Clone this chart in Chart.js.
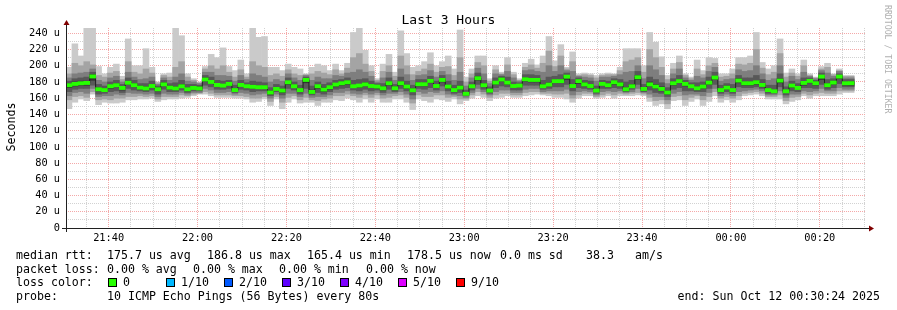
<!DOCTYPE html>
<html>
<head>
<meta charset="utf-8">
<script src="https://cdn.jsdelivr.net/npm/chart.js@4.4.1/dist/chart.umd.min.js"></script>
<style>
    body { margin: 0; background: #fff; }
    #wrap { position: relative; width: 897px; height: 310px; font-family: 'DejaVu Sans Mono', monospace; color: #000; overflow: hidden; }
    #wrap canvas { position: absolute; left: 0; top: 0; }
    .t { position: absolute; white-space: pre; font-size: 11.6px; line-height: 14px; }
    .sw { position: absolute; width: 9px; height: 9px; box-sizing: border-box; border: 1px solid #000; }
</style>
</head>
<body>
<div id="wrap">
    <canvas id="chart" width="897" height="310"></canvas>
</div>
<script>
// probe window: 3 hours ending at 00:30:24, one sample every 80 s
const START_CLOCK = '21:30:24';
const STEP = 80;
const SPAN = 3 * 3600;
const MEDIAN_HALF = 2; // half height of the green median band (us)

const timeLabels = ['21:40', '22:00', '22:20', '22:40', '23:00', '23:20', '23:40', '00:00', '00:20'];
const yTicks = [0, 20, 40, 60, 80, 100, 120, 140, 160, 180, 200, 220, 240];

// median rtt per probe (us)
const median = [
    176, 177.6, 178.4, 178.8, 186.8, 171, 170, 174.7, 176, 172.6,
    179, 176, 173, 172, 175, 171, 177, 173, 172, 174.7,
    171, 172.6, 172, 183, 180, 176.3, 175.5, 177.6, 170, 176.3,
    174.7, 174, 173.5, 173.5, 167, 171.4, 169.4, 179.6, 174.7, 170,
    182.5, 167.7, 174.7, 170.6, 173.5, 176.8, 178.4, 179.6, 174.7, 175.5,
    177, 175, 174.3, 172.2, 178.4, 172.2, 178.4, 174.3, 169.8, 177.2,
    177.2, 181.3, 175, 182.5, 174.3, 170, 173, 165.4, 174.7, 184.6,
    176, 169.4, 179.2, 183, 179.2, 175, 175.5, 183.3, 182.5, 182.5,
    174.7, 176.8, 181, 181, 186.5, 175, 181, 177, 175, 169.4,
    177.6, 176, 179.6, 177, 171, 174.7, 185.8, 171.4, 177, 174.3,
    171.4, 167, 178.4, 181, 177.6, 174.7, 172.2, 174.3, 179.2, 185.4,
    170, 173, 170, 181.7, 178.4, 178.4, 179.6, 176.3, 170, 168.5,
    181.7, 168.5, 175.5, 172.6, 178.8, 181.3, 178.4, 186.6, 176, 179.2,
    186.6, 178.4, 178.5
];

// the 10 pings of each probe, sorted (ping1 = fastest, ping10 = slowest)
const ping1 = [
    147, 155, 159, 157, 165, 152, 155, 154, 154, 155,
    158, 158, 159, 159, 160, 156, 158, 159, 159, 160,
    161, 163, 165, 165, 163, 161, 161, 161, 160, 160,
    159, 155, 156, 159, 151, 159, 147, 155, 159, 154,
    155, 155, 151, 155, 155, 158, 157, 160, 158, 155,
    159, 155, 159, 155, 155, 159, 159, 155, 146, 159,
    157, 155, 159, 158, 156, 159, 153, 157, 160, 163,
    161, 157, 160, 161, 163, 161, 161, 163, 164, 165,
    164, 163, 161, 161, 159, 155, 160, 163, 163, 160,
    161, 163, 160, 163, 163, 163, 164, 163, 156, 151,
    153, 147, 157, 158, 151, 156, 159, 151, 156, 163,
    155, 158, 155, 158, 163, 164, 165, 163, 159, 159,
    159, 153, 156, 158, 163, 160, 163, 163, 163, 163,
    165, 167, 167
];
const ping2 = [
    158, 162, 163, 161, 168, 158, 159, 158, 160, 160,
    162, 162, 163, 162, 163, 159, 162, 162, 162, 164,
    163, 165, 166, 168, 166, 164, 164, 164, 163, 163,
    162, 160, 160, 162, 156, 162, 155, 161, 163, 158,
    161, 158, 157, 159, 160, 163, 163, 165, 163, 161,
    164, 161, 164, 160, 161, 163, 164, 161, 154, 164,
    162, 162, 164, 164, 161, 162, 159, 159, 164, 168,
    165, 161, 164, 166, 166, 164, 164, 167, 168, 168,
    166, 166, 165, 165, 166, 160, 164, 166, 166, 162,
    164, 166, 164, 166, 165, 166, 167, 165, 161, 157,
    158, 153, 162, 163, 158, 161, 163, 158, 162, 168,
    160, 162, 160, 163, 166, 167, 168, 166, 162, 162,
    164, 157, 161, 162, 166, 164, 166, 167, 166, 166,
    169, 169, 169
];
const ping3 = [
    163, 167, 168, 166, 172, 162, 163, 163, 165, 164,
    167, 166, 166, 165, 166, 162, 166, 165, 165, 167,
    165, 167, 167, 172, 170, 167, 167, 168, 165, 167,
    166, 164, 165, 166, 160, 165, 160, 166, 166, 162,
    166, 161, 162, 162, 164, 167, 167, 169, 166, 165,
    167, 165, 167, 164, 166, 166, 168, 165, 159, 168,
    166, 168, 167, 169, 165, 164, 163, 161, 167, 172,
    168, 164, 168, 170, 170, 167, 167, 171, 172, 172,
    168, 169, 169, 169, 171, 164, 168, 169, 168, 164,
    168, 169, 168, 169, 167, 168, 172, 167, 165, 162,
    162, 158, 166, 168, 164, 165, 165, 163, 167, 172,
    163, 165, 163, 168, 169, 170, 171, 169, 164, 164,
    169, 161, 165, 165, 169, 168, 169, 172, 169, 169,
    173, 171, 171
];
const ping4 = [
    168, 171, 172, 172, 176, 165, 166, 168, 169, 167,
    172, 170, 169, 168, 170, 165, 171, 168, 168, 170,
    167, 169, 169, 176, 174, 171, 171, 172, 167, 171,
    170, 168, 169, 169, 163, 168, 164, 172, 170, 165,
    172, 164, 167, 165, 168, 171, 172, 173, 170, 169,
    171, 169, 170, 167, 171, 168, 172, 169, 164, 172,
    171, 173, 170, 175, 169, 166, 167, 163, 170, 177,
    171, 166, 173, 175, 174, 170, 170, 176, 176, 176,
    171, 172, 174, 174, 177, 169, 173, 172, 171, 166,
    172, 172, 173, 172, 168, 171, 177, 168, 170, 167,
    166, 162, 171, 173, 169, 169, 168, 168, 172, 177,
    166, 168, 166, 174, 173, 173, 174, 172, 166, 166,
    174, 164, 169, 168, 173, 173, 172, 177, 171, 173,
    178, 174, 174
];
const ping5 = [
    173, 175, 176, 176, 182, 169, 168, 172, 174, 170,
    177, 174, 171, 170, 173, 169, 175, 171, 170, 173,
    169, 171, 171, 181, 178, 175, 174, 176, 169, 175,
    173, 172, 172, 172, 165, 170, 167, 177, 173, 168,
    179, 166, 172, 168, 171, 174, 176, 177, 173, 173,
    175, 173, 172, 170, 176, 170, 176, 172, 168, 175,
    175, 179, 173, 180, 172, 168, 171, 164, 173, 182,
    174, 168, 177, 181, 177, 173, 174, 181, 180, 180,
    173, 175, 179, 179, 183, 173, 178, 175, 173, 168,
    176, 174, 177, 175, 170, 173, 183, 170, 175, 172,
    169, 165, 176, 179, 175, 173, 170, 172, 177, 183,
    168, 171, 168, 179, 176, 176, 177, 174, 168, 167,
    179, 167, 173, 171, 176, 179, 176, 183, 174, 177,
    184, 176, 176
];
const ping6 = [
    178, 180, 181, 181, 189, 173, 172, 176, 178, 174,
    181, 178, 175, 174, 177, 173, 179, 175, 174, 177,
    173, 174, 174, 185, 182, 178, 177, 179, 172, 178,
    176, 176, 175, 175, 169, 173, 171, 181, 176, 172,
    184, 170, 176, 173, 175, 178, 180, 181, 176, 177,
    179, 177, 176, 174, 180, 174, 180, 176, 172, 179,
    179, 183, 177, 184, 176, 172, 175, 167, 176, 187,
    178, 171, 181, 185, 181, 177, 177, 185, 184, 184,
    177, 179, 183, 183, 188, 177, 183, 179, 177, 171,
    179, 178, 181, 179, 173, 177, 188, 173, 180, 177,
    174, 169, 180, 183, 179, 176, 174, 176, 181, 187,
    172, 175, 172, 184, 180, 180, 181, 178, 172, 170,
    184, 170, 177, 174, 180, 183, 180, 188, 178, 181,
    188, 180, 180
];
const ping7 = [
    181, 184, 185, 186, 192, 177, 175, 180, 182, 177,
    185, 182, 178, 178, 181, 175, 182, 178, 179, 182,
    177, 177, 176, 188, 186, 182, 181, 182, 176, 182,
    179, 181, 180, 179, 173, 177, 175, 185, 180, 176,
    186, 175, 180, 177, 179, 182, 183, 185, 182, 183,
    184, 181, 178, 178, 185, 177, 186, 181, 176, 183,
    183, 187, 181, 188, 181, 176, 181, 170, 180, 191,
    182, 174, 185, 187, 186, 180, 179, 189, 189, 188,
    182, 186, 187, 189, 191, 183, 185, 182, 181, 175,
    182, 181, 184, 183, 180, 182, 193, 177, 186, 183,
    179, 173, 184, 188, 182, 179, 179, 180, 186, 192,
    176, 178, 177, 188, 185, 185, 188, 183, 176, 176,
    190, 174, 181, 178, 185, 185, 182, 191, 183, 184,
    190, 183, 183
];
const ping8 = [
    185, 190, 191, 192, 196, 182, 180, 185, 187, 180,
    192, 186, 183, 184, 186, 177, 185, 182, 186, 190,
    181, 180, 178, 192, 192, 188, 188, 187, 181, 188,
    183, 190, 188, 186, 180, 183, 181, 190, 185, 182,
    188, 182, 186, 184, 184, 188, 187, 191, 192, 195,
    192, 187, 180, 185, 192, 182, 196, 189, 182, 188,
    189, 194, 186, 193, 189, 182, 192, 175, 185, 197,
    190, 178, 190, 189, 193, 185, 181, 194, 195, 193,
    192, 200, 193, 200, 194, 193, 187, 186, 185, 181,
    186, 186, 187, 189, 192, 193, 200, 184, 200, 195,
    188, 178, 190, 196, 185, 182, 187, 185, 193, 198,
    181, 183, 184, 195, 193, 194, 200, 190, 182, 184,
    200, 180, 187, 183, 192, 187, 184, 194, 191, 187,
    193, 185, 185
];
const ping9 = [
    190, 203, 200, 205, 201, 188, 186, 191, 193, 183,
    205, 192, 190, 196, 191, 179, 188, 186, 198, 205,
    186, 182, 179, 196, 200, 196, 200, 192, 186, 195,
    186, 205, 200, 198, 188, 190, 187, 195, 190, 188,
    189, 190, 193, 191, 189, 195, 190, 197, 210, 215,
    202, 193, 182, 193, 200, 187, 212, 200, 189, 193,
    196, 202, 192, 198, 199, 188, 210, 180, 190, 204,
    200, 181, 195, 190, 201, 189, 182, 198, 201, 197,
    203, 218, 199, 212, 196, 205, 188, 189, 188, 185,
    188, 189, 189, 194, 205, 207, 210, 192, 220, 210,
    198, 183, 196, 204, 188, 184, 196, 189, 200, 203,
    186, 187, 190, 202, 201, 203, 220, 197, 189, 192,
    215, 186, 191, 187, 200, 188, 185, 196, 198, 189,
    194, 187, 187
];
const ping10 = [
    198, 227, 212, 250, 250, 199, 190, 198, 202, 187,
    233, 200, 200, 221, 198, 180, 190, 191, 250, 237,
    190, 184, 180, 199, 214, 210, 222, 199, 194, 207,
    190, 250, 235, 236, 198, 198, 194, 202, 198, 196,
    190, 198, 202, 200, 194, 202, 194, 203, 241, 250,
    219, 200, 184, 202, 214, 192, 243, 215, 198, 200,
    205, 216, 200, 205, 212, 196, 244, 186, 196, 212,
    212, 184, 200, 192, 210, 192, 184, 203, 208, 201,
    212, 236, 206, 226, 198, 217, 190, 191, 190, 188,
    190, 191, 190, 198, 221, 221, 221, 200, 241, 229,
    211, 188, 203, 212, 190, 186, 207, 194, 210, 209,
    190, 190, 196, 210, 210, 212, 241, 204, 196, 200,
    233, 191, 196, 190, 207, 190, 186, 199, 203, 190,
    196, 188, 188
];

const lossLabels = ['0', '1/10', '2/10', '3/10', '4/10', '5/10', '9/10'];
const lossColors = ['#26ff00', '#00b8ff', '#0059ff', '#5e00ff', '#7e00ff', '#dd00ff', '#ff0000'];
const smokeColors = ['#cacaca', '#a4a4a4', '#7e7e7e', '#585858', '#323232'];

const GRID = '#d2d2d2';
const MGRID = '#f4a8a8';
const FONT = "'DejaVu Sans Mono', monospace";

function clockToSec(s) {
    const p = s.split(':').map(Number);
    return p[0] * 3600 + p[1] * 60 + (p[2] || 0);
}
const startSec = clockToSec(START_CLOCK);
const majorOffsets = timeLabels.map(l => (clockToSec(l) - startSec + 86400) % 86400);

// minor grid every 5 minutes on the clock
const xGrid = [];
for (let t = 300 - (startSec % 300); t <= SPAN; t += 300) xGrid.push(t);

const centre = i => STEP * i + STEP / 2;
const lows = [ping1, ping2, ping3, ping4, ping5];
const highs = [ping10, ping9, ping8, ping7, ping6];

const datasets = lows.map((lo, b) => ({
    type: 'bar',
    data: lo.map((v, i) => ({ x: centre(i), y: [v, highs[b][i]] })),
    backgroundColor: smokeColors[b],
    order: 10 - b
}));

datasets.push({
    type: 'line',
    data: median.map((v, i) => ({ x: STEP * i, y: v }))
        .concat([{ x: STEP * median.length, y: median[median.length - 1] }]),
    borderColor: '#202020',
    borderWidth: 1,
    stepped: true,
    pointRadius: 0,
    fill: false,
    order: 2
});

datasets.push({
    type: 'bar',
    data: median.map((v, i) => ({ x: centre(i), y: [v - MEDIAN_HALF, v + MEDIAN_HALF] })),
    backgroundColor: lossColors[0],
    order: 1
});

const axisArrows = {
    id: 'axisArrows',
    afterDraw(chart) {
        const { ctx, chartArea: a } = chart;
        ctx.save();
        ctx.strokeStyle = '#202020';
        ctx.lineWidth = 1;
        ctx.beginPath();
        ctx.moveTo(a.left - 4, a.bottom + 0.5);
        ctx.lineTo(a.right + 4, a.bottom + 0.5);
        ctx.moveTo(a.left + 0.5, a.bottom + 4);
        ctx.lineTo(a.left + 0.5, a.top - 5);
        ctx.stroke();
        ctx.fillStyle = '#800000';
        ctx.beginPath();
        ctx.moveTo(a.left - 2.5, a.top - 3);
        ctx.lineTo(a.left + 3.5, a.top - 3);
        ctx.lineTo(a.left + 0.5, a.top - 8);
        ctx.closePath();
        ctx.fill();
        ctx.beginPath();
        ctx.moveTo(a.right + 3, a.bottom - 2.5);
        ctx.lineTo(a.right + 3, a.bottom + 3.5);
        ctx.lineTo(a.right + 8, a.bottom + 0.5);
        ctx.closePath();
        ctx.fill();
        ctx.restore();
    }
};

new Chart(document.getElementById('chart'), {
    type: 'bar',
    data: { datasets },
    plugins: [axisArrows],
    options: {
        responsive: false,
        animation: false,
        events: [],
        devicePixelRatio: 1,
        layout: { padding: { left: 0, right: 31, top: 28, bottom: 0 } },
        datasets: {
            bar: { grouped: false, barPercentage: 1, categoryPercentage: 1, borderWidth: 0, borderSkipped: false }
        },
        plugins: { legend: { display: false }, tooltip: { enabled: false }, title: { display: false } },
        scales: {
            x: {
                type: 'linear',
                min: 0,
                max: SPAN,
                offset: false,
                z: 1,
                afterBuildTicks: s => { s.ticks = xGrid.map(v => ({ value: v })); },
                afterFit: s => { s.height = 82; },
                grid: {
                    offset: false,
                    drawTicks: false,
                    color: c => majorOffsets.includes(c.tick && c.tick.value) ? MGRID : GRID
                },
                border: { display: false, dash: [1, 1] },
                ticks: {
                    autoSkip: false,
                    maxRotation: 0,
                    minRotation: 0,
                    padding: 4,
                    color: '#000',
                    font: { family: FONT, size: 10.3 },
                    callback: v => {
                        const k = majorOffsets.indexOf(v);
                        return k >= 0 ? timeLabels[k] : '';
                    }
                }
            },
            y: {
                type: 'linear',
                min: 0,
                max: 246.5,
                z: 1,
                afterBuildTicks: s => {
                    const t = [];
                    for (let v = 0; v <= 240; v += 10) t.push({ value: v });
                    s.ticks = t;
                },
                afterFit: s => { s.width = 66; },
                grid: {
                    drawTicks: false,
                    color: c => (c.tick && c.tick.value % 20 === 0) ? MGRID : GRID
                },
                border: { display: false, dash: [1, 1] },
                ticks: {
                    autoSkip: false,
                    padding: 6,
                    color: '#000',
                    font: { family: FONT, size: 10.3 },
                    callback: v => yTicks.includes(v) ? (v === 0 ? '0' : v + ' u') : ''
                }
            }
        }
    }
});

// text around the plot
const wrap = document.getElementById('wrap');
function addText(x, y, text, style) {
    const d = document.createElement('div');
    d.className = 't';
    d.style.left = x + 'px';
    d.style.top = y + 'px';
    d.textContent = text;
    if (style) Object.assign(d.style, style);
    wrap.appendChild(d);
    return d;
}

addText(0, 12, 'Last 3 Hours', { width: '897px', textAlign: 'center', fontSize: '13px', lineHeight: '15px' });
addText(-19, 120, 'Seconds', { width: '60px', textAlign: 'center', transform: 'rotate(-90deg)' });
addText(883, 5, 'RRDTOOL / TOBI OETIKER', { writingMode: 'vertical-rl', fontSize: '8.2px', lineHeight: '10px', color: '#b0b0b0' });

const legendRows = [
    [248, [[16, 'median rtt:'], [107, '175.7 us avg'], [207, '186.8 us max'], [307, '165.4 us min'],
           [407, '178.5 us now'], [500, '0.0 ms sd'], [586, '38.3'], [635, 'am/s']]],
    [262, [[16, 'packet loss:'], [107, '0.00 % avg'], [193, '0.00 % max'], [279, '0.00 % min'], [366, '0.00 % now']]],
    [275, [[16, 'loss color:']]],
    [289, [[16, 'probe:'], [107, '10 ICMP Echo Pings (56 Bytes) every 80s']]]
];
legendRows.forEach(([y, items]) => items.forEach(([x, s]) => addText(x, y, s)));

lossLabels.forEach((lbl, i) => {
    const x = 108 + i * 58;
    const sq = document.createElement('div');
    sq.className = 'sw';
    sq.style.left = x + 'px';
    sq.style.top = '278px';
    sq.style.background = lossColors[i];
    wrap.appendChild(sq);
    addText(x + 15, 275, lbl);
});

addText(0, 289, 'end: Sun Oct 12 00:30:24 2025', { left: 'auto', right: '17px' });
</script>
</body>
</html>
